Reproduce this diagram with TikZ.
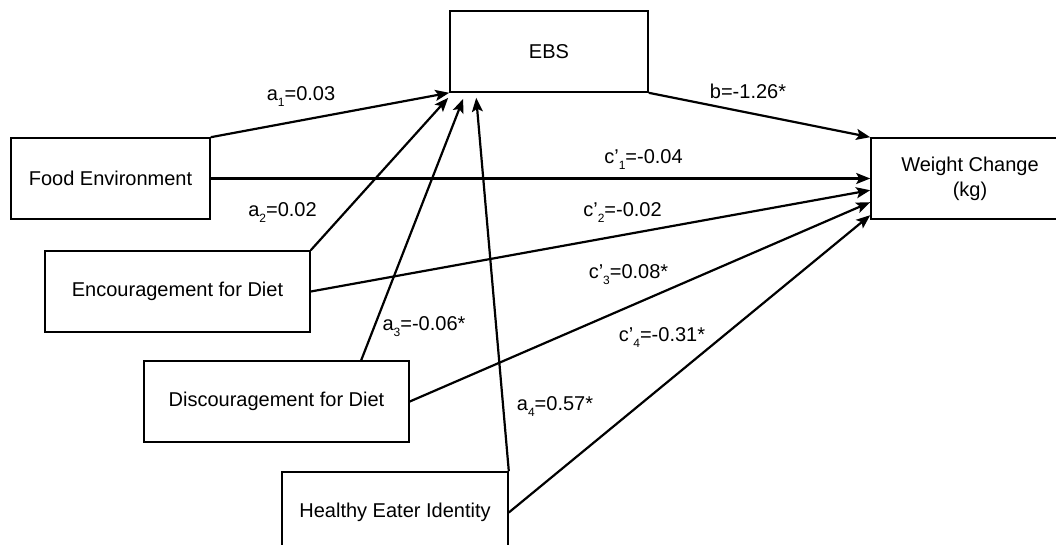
\documentclass[tikz,border=0pt]{standalone}
\usepackage{fontspec}
\setmainfont{Liberation Sans}
\usetikzlibrary{arrows.meta,calc}
\newcommand\lsb[1]{\raisebox{-0.3em}{\fontsize{12}{12}\selectfont #1}}
\begin{document}
\begin{tikzpicture}[x=1pt,y=-1pt,
  box/.style={draw, line width=1.6pt, minimum height=81pt, inner sep=0pt, font=\fontsize{20}{25}\selectfont, align=center},
  arr/.style={line width=2.2pt, -{Stealth[length=14pt,width=11pt,inset=3pt]}},
  lbl/.style={inner sep=0pt, font=\fontsize{20}{24}\selectfont}]
\fill[white] (0,0) rectangle (1056,545);
\useasboundingbox (0,0) rectangle (1056,545);
\clip (0,0) rectangle (1056,545);

\node[box, minimum width=198pt] (ebs) at (549,51.5) {EBS};
\node[box, minimum width=199pt] (fe) at (110.5,178.5) {Food Environment};
\node[box, minimum width=265pt] (enc) at (177.5,291.5) {Encouragement for Diet};
\node[box, minimum width=265pt] (dis) at (276.5,401.5) {Discouragement for Diet};
\node[box, minimum width=226pt] (hei) at (395,512.5) {Healthy Eater Identity};
\node[box, minimum width=198pt] (wc) at (970,178.5) {Weight Change\\(kg)};

\draw[arr] (fe.north east) -- (ebs.south west);
\draw[arr] (enc.north east) -- ($(ebs.south west)+(-1,5)$);
\draw[arr] ($(dis.north west)+(218,0)$) -- ($(ebs.south west)+(14,6)$);
\draw[arr] (hei.north east) -- ($(ebs.south west)+(27,5)$);
\draw[arr] (fe.east) -- (wc.west);
\draw[arr] (enc.east) -- ($(wc.north west)+(0,53)$);
\draw[arr] (dis.east) -- ($(wc.north west)+(0,65)$);
\draw[arr] (hei.east) -- ($(wc.north west)+(0,78)$);
\draw[arr] (ebs.south east) -- (wc.north west);

\node[lbl] (la1) at (301,97) {a\lsb{1}=0.03};
\node[lbl] (lb) at (748,91) {b=-1.26*};
\node[lbl] (lc1) at (643.5,160) {c’\lsb{1}=-0.04};
\node[lbl] (la2) at (282.5,213) {a\lsb{2}=0.02};
\node[lbl] (lc2) at (622.5,213) {c’\lsb{2}=-0.02};
\node[lbl] (lc3) at (628.5,275) {c’\lsb{3}=0.08*};
\node[lbl] (la3) at (424,327) {a\lsb{3}=-0.06*};
\node[lbl] (lc4) at (662,338) {c’\lsb{4}=-0.31*};
\node[lbl] (la4) at (555,407) {a\lsb{4}=0.57*};
\end{tikzpicture}
\end{document}
